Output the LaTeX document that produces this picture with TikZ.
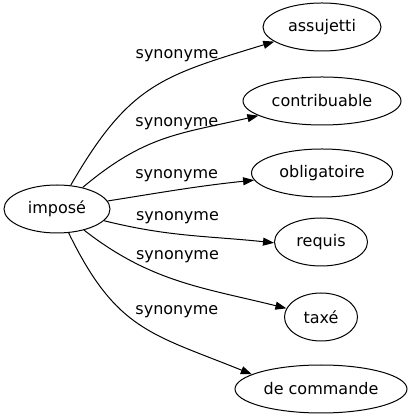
\documentclass[tikz,border=0pt]{standalone}
\usepackage{fontspec}
\setmainfont{DejaVu Sans}
\usepackage{tikz}
\usetikzlibrary{shapes,arrows.meta}
\newcommand{\synnode}[4] {\node at (#1) (#2) [ellipse, draw, line width=1pt, inner sep=0pt, minimum height=48pt, minimum width=#3] {#4};}
\newcommand{\synarc}[5] {\draw [->, line width=1pt] (#1) to[#4] node [#5, inner sep=0pt] {#3} (#2);}

\begin{document}
\begin{tikzpicture}[x=1pt, y=1pt, >={Triangle[length=11pt, width=8pt]}, font=\fontsize{16}{19}\selectfont]
\useasboundingbox (0,0) rectangle (414,419);

\synnode {57,210}{impose}{106pt}{imposé};
\synnode {322,392}{assujetti}{118pt}{assujetti};
\synnode {322,318}{contribuable}{158pt}{contribuable};
\synnode {322,246}{obligatoire}{141pt}{obligatoire};
\synnode {321,177}{requis}{93pt}{requis};
\synnode {321,102}{taxe}{73pt}{taxé};
\synnode {321,30}{decommande}{172pt}{de commande};

\synarc{impose}{assujetti}{synonyme}{out=60, in=197, looseness=1.2}{pos=0.63, above=13pt};
\synarc{impose}{contribuable}{synonyme}{out=40, in=193, looseness=1.1}{pos=0.58, above=4.5pt};
\synarc{impose}{obligatoire}{synonyme}{out=9, in=186}{pos=0.47, above=7.5pt};
\synarc{impose}{requis.181}{synonyme}{out=-14, in=174}{pos=0.43, above=10pt};
\synarc{impose}{taxe}{synonyme}{out=-38, in=166}{pos=0.49, above=17pt};
\synarc{impose}{decommande.168}{synonyme}{out=-64, in=158, looseness=1.2}{pos=0.7, above=26pt};
\end{tikzpicture}
\end{document}
